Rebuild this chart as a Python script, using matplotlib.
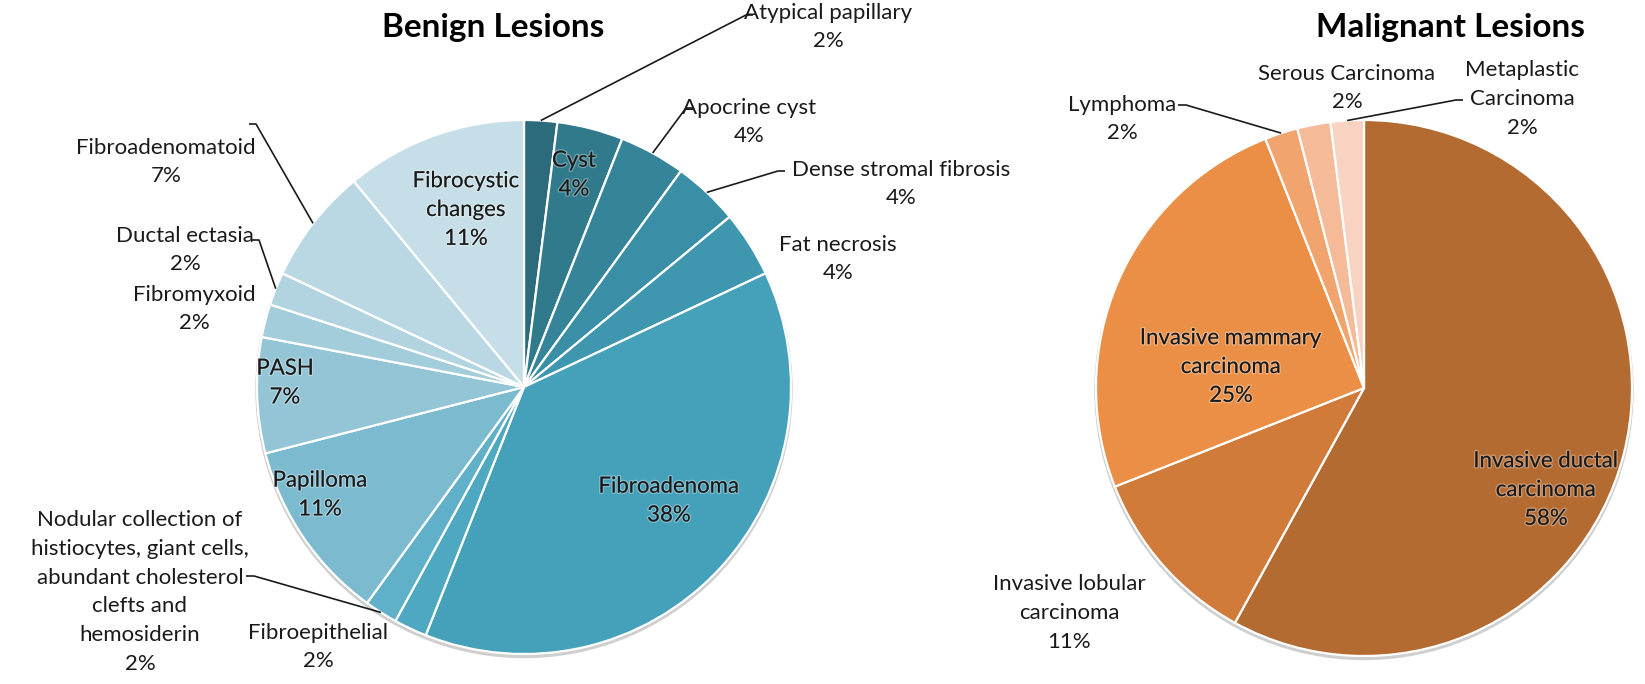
import numpy as np
import matplotlib.pyplot as plt
import matplotlib.patheffects as pe
from matplotlib.patches import Circle

plt.rcParams['font.family'] = ['Lato', 'DejaVu Sans']

W, H = 1645, 684

# Benign lesions (% of benign cases), clockwise from 12 o'clock
benign_labels = ["Atypical papillary", "Cyst", "Apocrine cyst", "Dense stromal fibrosis",
                 "Fat necrosis", "Fibroadenoma", "Fibroepithelial",
                 "Nodular collection of\nhistiocytes, giant cells,\nabundant cholesterol\nclefts and\nhemosiderin",
                 "Papilloma", "PASH", "Fibromyxoid", "Ductal ectasia", "Fibroadenomatoid",
                 "Fibrocystic\nchanges"]
benign_pct = [2, 4, 4, 4, 4, 38, 2, 2, 11, 7, 2, 2, 7, 11]
benign_colors = ['#2c6b7b', '#317a8c', '#35849a', '#3a8ea5', '#3e97ae', '#45a0b9', '#4fa8c2',
                 '#5fb0c8', '#7bbacf', '#93c5d6', '#a4cddc', '#b2d4e0', '#bad8e3', '#c6dee7']

# Malignant lesions (% of malignant cases), clockwise from 12 o'clock
malig_labels = ["Invasive ductal\ncarcinoma", "Invasive lobular\ncarcinoma",
                "Invasive mammary\ncarcinoma", "Lymphoma", "Serous Carcinoma",
                "Metaplastic\nCarcinoma"]
malig_pct = [58, 11, 25, 2, 2, 2]
malig_colors = ['#b46b32', '#d07b3a', '#ea8f45', '#f2a46f', '#f5ba97', '#f8d3c1']

# layout (pixels from top-left): pie centres / radii, label spots, leader elbows
benign_c, benign_r = (524, 387), 267
malig_c, malig_r = (1364, 388), 268

benign_pos = [(828, 27), (574, 175), (749, 122), (901, 184), (838, 259), (669, 501),
              (318, 647), (140, 592), (320, 495), (285, 383), (194, 309), (185, 250),
              (166, 162), (466, 210)]
# index: (elbow x, elbow y, tick end x)
benign_leader = {0: (746, 15, 753), 2: (686, 108, 694), 3: (778, 171, 785),
                 7: (254, 576, 246), 11: (259, 240, 252), 12: (256, 124, 249)}
benign_inside = {1, 5, 8, 9, 13}

malig_pos = [(1546, 490), (1069, 613), (1231, 367), (1122, 119), (1347, 88), (1522, 99)]
malig_leader = {3: (1186, 105, 1178), 5: (1456, 100, 1463)}
malig_inside = {0, 2}


def draw_pie(ax, pct, labels, colors, centre, radius, pos, leaders, inside):
    cx, cy = centre
    # soft grey rim under the pie
    ax.add_patch(Circle((cx, cy + 2.5), radius + 1, color='#cfcfcf', zorder=0))
    ax.pie(pct, colors=colors, center=centre, radius=radius, startangle=-90,
           counterclock=True, wedgeprops=dict(edgecolor='white', linewidth=1.6))
    frac = np.cumsum(pct) / np.sum(pct) - np.array(pct) / 2 / np.sum(pct)
    for i, (lab, p) in enumerate(zip(labels, pct)):
        x, y = pos[i]
        kw = {}
        if i in inside:
            kw['path_effects'] = [pe.withStroke(linewidth=2, foreground=(1, 1, 1, 0.3))]
        ax.text(x, y, f"{lab}\n{p}%", ha='center', va='center', multialignment='center',
                fontsize=16, color='#1a1a1a', linespacing=1.55, zorder=5, **kw)
        if i in leaders:
            ex, ey, tx = leaders[i]
            phi = np.deg2rad(360 * frac[i])
            ax0, ay0 = cx + radius * np.sin(phi), cy - radius * np.cos(phi)
            ax.plot([ax0, ex, tx], [ay0, ey, ey], color='#1a1a1a', lw=1.2,
                    solid_capstyle='butt', zorder=4)


fig = plt.figure(figsize=(W / 100, H / 100), dpi=100)
ax = fig.add_axes([0, 0, 1, 1])

draw_pie(ax, benign_pct, benign_labels, benign_colors, benign_c, benign_r,
         benign_pos, benign_leader, benign_inside)
draw_pie(ax, malig_pct, malig_labels, malig_colors, malig_c, malig_r,
         malig_pos, malig_leader, malig_inside)

ax.text(493, 27, "Benign Lesions", ha='center', va='center', fontsize=24,
        fontweight='bold', color='black')
ax.text(1451, 27, "Malignant Lesions", ha='center', va='center', fontsize=24,
        fontweight='bold', color='black')

ax.set_xlim(0, W)
ax.set_ylim(H, 0)
ax.set_aspect('equal')
ax.axis('off')

plt.savefig("out.png", dpi=100)
